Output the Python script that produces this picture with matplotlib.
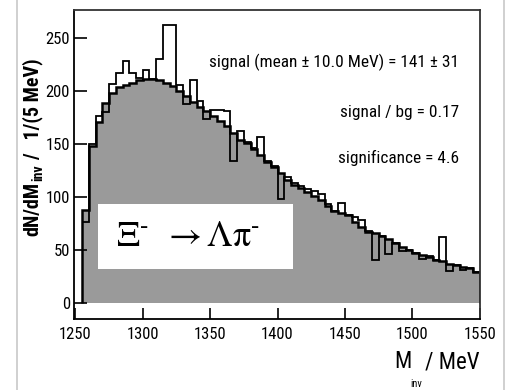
import matplotlib
matplotlib.use("Agg")
import matplotlib.pyplot as plt
from matplotlib import font_manager
from matplotlib.font_manager import FontProperties
from matplotlib.patches import Rectangle
from matplotlib.lines import Line2D
import numpy as np

# ---------------- data ----------------
bin_lo = 1255            # MeV, lower edge of first bin
bin_width = 5            # MeV
data_counts = [76, 150, 176, 180, 207, 217, 228, 217, 212, 220,
               211, 230, 262, 262, 206, 188, 210, 191, 174, 182,
               182, 181, 134, 162, 152, 146, 157, 134, 129, 98,
               119, 113, 110, 107, 106, 103, 93, 87, 94, 83,
               81, 78, 68, 40, 63, 46, 56, 49, 50, 47,
               41, 44, 40, 62, 30, 36, 31, 33, 29]
bg_counts = [88, 148, 171, 189, 198, 204, 206, 208, 210, 211,
             211, 210, 208, 205, 200, 195, 190, 185, 181, 176,
             172, 167, 160, 154, 151, 145, 140, 133, 128, 123,
             116, 111, 108, 105, 101, 97, 91, 87, 85, 83,
             76, 72, 67, 66, 63, 60, 56, 53, 50, 47,
             45, 43, 40, 39, 37, 36, 34, 33, 29]
x_ticks = [1250, 1300, 1350, 1400, 1450, 1500, 1550]
y_ticks = [0, 50, 100, 150, 200, 250]
info_lines = ["signal (mean \u00b1 10.0 MeV) = 141 \u00b1 31",
              "signal / bg = 0.17",
              "significance = 4.6"]

edges = bin_lo + bin_width * np.arange(len(data_counts) + 1)

# ---------------- fonts: look for a condensed sans ----------------
PREF = ["Liberation Sans Narrow", "Arial Narrow", "Roboto Condensed",
        "Open Sans Condensed", "Noto Sans Condensed", "DejaVu Sans"]


def _w(f):
    w = f.weight
    if isinstance(w, int):
        return w
    return {"bold": 700, "normal": 400, "regular": 400, "medium": 500,
            "light": 300, "semibold": 600}.get(str(w).lower(), 400)


def _is_cond(f):
    st = f.stretch
    if isinstance(st, int):
        c = st < 500
    else:
        c = "condensed" in str(st).lower()
    return c or "Narrow" in f.name or "Condensed" in f.name or \
        "Condensed" in f.fname or "Narrow" in f.fname


def pick(bold):
    target = 700 if bold else 400
    best, bscore = None, None
    for f in font_manager.fontManager.ttflist:
        if not _is_cond(f) or f.style != "normal":
            continue
        if "Mono" in f.name or "Serif" in f.name or "Mono" in f.fname or "Serif" in f.fname:
            continue
        pr = PREF.index(f.name) if f.name in PREF else len(PREF)
        score = (pr, abs(_w(f) - target))
        if bscore is None or score < bscore:
            best, bscore = f, score
    return best


fr, fb = pick(False), pick(True)
if fr is not None:
    FP_R = FontProperties(fname=fr.fname)
    FP_B = FontProperties(fname=(fb.fname if fb is not None else fr.fname))
    cond = True
else:
    FP_R = FontProperties(family="Liberation Sans")
    FP_B = FontProperties(family="Liberation Sans", weight="bold")
    cond = False

plt.rcParams["font.family"] = ["Liberation Sans", "DejaVu Sans"]

W, H = 513, 390
fig = plt.figure(figsize=(W / 100, H / 100), dpi=100)
L, R, T, B = 74, 480, 10, 319
ax = fig.add_axes([L / W, 1 - B / H, (R - L) / W, (B - T) / H])

ax.stairs(bg_counts, edges, baseline=0, fill=True, color="#9a9a9a", lw=0)
ax.stairs(bg_counts, edges, baseline=0, color="black", lw=1.8)
ax.stairs(data_counts, edges, baseline=None, color="black", lw=1.3)

ax.set_xlim(1249, 1550.2)
ax.set_ylim(-15.4, 276.6)
ax.set_xticks(x_ticks)
ax.set_yticks(y_ticks)
ax.tick_params(axis="both", direction="in", width=1.2, colors="black")
ax.tick_params(axis="x", length=8, pad=6)
ax.tick_params(axis="y", length=9, pad=3)
tick_fp = FP_R.copy()
tick_fp.set_size(12 if cond else 10.5)
for lab in ax.get_xticklabels() + ax.get_yticklabels():
    lab.set_fontproperties(tick_fp)
for s in ax.spines.values():
    s.set_linewidth(1.3)
ax.spines["top"].set_color("#333333")
ax.spines["right"].set_color("#333333")

# info text
info_fp = FP_R.copy()
info_fp.set_size(12.4 if cond else 11)
ys = [67, 117, 163]
for txt, yb in zip(info_lines, ys):
    fig.text(459 / W, 1 - yb / H, txt, ha="right", va="baseline", fontproperties=info_fp)

# reaction label box
ax.add_patch(Rectangle(((98 - L) / (R - L), (B - 269) / (B - T)),
                       (293 - 98) / (R - L), (269 - 204) / (B - T),
                       transform=ax.transAxes, facecolor="white", edgecolor="none", zorder=5))
ax.text((116 - L) / (R - L), (B - 237) / (B - T),
        r"$\Xi^{\text{-}}\ \,\rightarrow\Lambda\mathrm{\pi}^{\text{-}}$",
        transform=ax.transAxes, ha="left", va="center", fontsize=26,
        math_fontfamily="stix", zorder=6)

# y label: main part + subscript, rotated
yl_fp = FP_B.copy()
yl_fp.set_size(14.5 if cond else 12.5)
sub_fp = FP_B.copy()
sub_fp.set_size(10 if cond else 8.5)
XC = 33
t1 = fig.text(XC / W, 1 - 236 / H, "dN/dM", rotation=90, ha="center", va="bottom",
              fontproperties=yl_fp)
fig.canvas.draw()
r = fig.canvas.get_renderer()
bb = t1.get_window_extent(r)
t2 = fig.text((bb.x1 + 3) / W, (bb.y1 + 1) / H, "inv", rotation=90, ha="right", va="bottom",
              fontproperties=sub_fp)
bb2 = t2.get_window_extent(r)
fig.text(XC / W, (bb2.y1 + 4) / H, "/   1/(5 MeV)", rotation=90, ha="center", va="bottom",
         fontproperties=yl_fp)

# x label
xl_fp = FP_R.copy()
xl_fp.set_size(16.5 if cond else 14)
xs_fp = FP_R.copy()
xs_fp.set_size(7.5 if cond else 7)
t3 = fig.text(480 / W, 1 - 368 / H, "/ MeV", ha="right", va="baseline", fontproperties=xl_fp)
bb3 = t3.get_window_extent(r)
t4 = fig.text((bb3.x0 - 3) / W, 1 - 387 / H, "inv", ha="right", va="baseline", fontproperties=xs_fp)
bb4 = t4.get_window_extent(r)
fig.text((bb4.x0 + 1) / W, 1 - 368 / H, "M", ha="right", va="baseline", fontproperties=xl_fp)

# page border lines
for xp in (17, 504):
    fig.add_artist(Line2D([xp / W, xp / W], [0, 1], transform=fig.transFigure,
                          color="#c8c8c8", lw=1.2))

fig.savefig("out.png", dpi=100)
